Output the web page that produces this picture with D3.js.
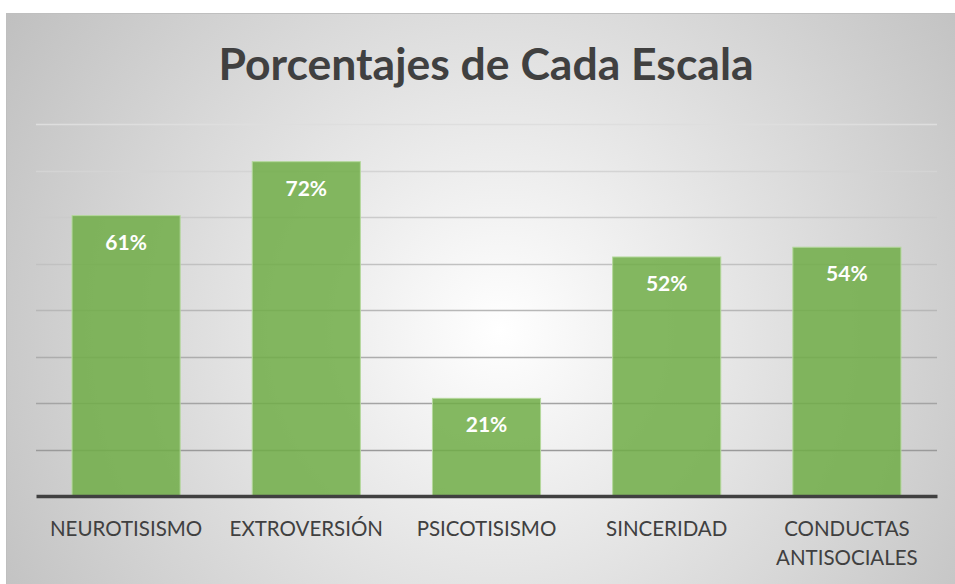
<!DOCTYPE html>
<html>
<head>
<meta charset="utf-8">
<script src="https://cdn.jsdelivr.net/npm/d3@7"></script>
<style>
body { margin: 0; background: #fff; }
svg { display: block; }
</style>
</head>
<body>
<div id="chart"></div>
<script>
var categories = ["NEUROTISISMO", "EXTROVERSIÓN", "PSICOTISISMO", "SINCERIDAD", "CONDUCTAS ANTISOCIALES"];
var values = [0.603, 0.719, 0.21, 0.514, 0.535];
var valueLabels = ["61%", "72%", "21%", "52%", "54%"];
var gridTicks = [0.1, 0.2, 0.3, 0.4, 0.5, 0.6, 0.7, 0.8];

var width = 955, height = 584;

var svg = d3.select("#chart")
    .append("svg")
    .attr("width", width)
    .attr("height", height);

var defs = svg.append("defs");
var bg = defs.append("radialGradient")
    .attr("id", "bg")
    .attr("gradientUnits", "userSpaceOnUse")
    .attr("cx", 500).attr("cy", 330).attr("r", 620);
bg.append("stop").attr("offset", "0%").attr("stop-color", "#ffffff");
bg.append("stop").attr("offset", "100%").attr("stop-color", "#bcbcbc");

// chart frame
svg.append("rect")
    .attr("x", 6.5).attr("y", 13.5)
    .attr("width", 960).attr("height", 580)
    .attr("fill", "url(#bg)")
    .attr("stroke", "#bfbfbf")
    .attr("stroke-width", 1);

svg.append("text")
    .text("Porcentajes de Cada Escala")
    .attr("x", 486)
    .attr("y", 80)
    .attr("text-anchor", "middle")
    .attr("font-family", "Lato, 'Open Sans', sans-serif")
    .attr("font-weight", "bold")
    .attr("font-size", 44.5)
    .attr("fill", "#404040");

var xScale = d3.scaleBand()
    .domain(categories)
    .range([36, 937])
    .paddingInner(0.4)
    .paddingOuter(0.2);

var yScale = d3.scaleLinear()
    .domain([0, 0.8])
    .range([496, 124]);

var grayScale = d3.scaleLinear()
    .domain([0.8, 0.1])
    .range(["#dedede", "#9a9a9a"]);

svg.append("g")
    .selectAll("line")
    .data(gridTicks)
    .enter()
    .append("line")
    .attr("x1", 36).attr("x2", 937)
    .attr("y1", function(d) { return Math.round(yScale(d)) + 0.5; })
    .attr("y2", function(d) { return Math.round(yScale(d)) + 0.5; })
    .attr("stroke", function(d) { return grayScale(d); })
    .attr("stroke-width", 1.3);

svg.append("g")
    .selectAll("rect")
    .data(values)
    .enter()
    .append("rect")
    .attr("x", function(d, i) { return xScale(categories[i]); })
    .attr("y", function(d) { return yScale(d); })
    .attr("width", xScale.bandwidth())
    .attr("height", function(d) { return yScale(0) - yScale(d); })
    .attr("fill", "#70ad47")
    .attr("fill-opacity", 0.85)
    .attr("stroke", "#b4d89c")
    .attr("stroke-width", 1);

svg.append("g")
    .selectAll("text")
    .data(values)
    .enter()
    .append("text")
    .text(function(d, i) { return valueLabels[i]; })
    .attr("x", function(d, i) { return xScale(categories[i]) + xScale.bandwidth() / 2; })
    .attr("y", function(d) { return yScale(d) + 34; })
    .attr("text-anchor", "middle")
    .attr("font-family", "Lato, 'Open Sans', sans-serif")
    .attr("font-weight", "bold")
    .attr("font-size", 21)
    .attr("fill", "#ffffff");

// baseline axis
var xAxis = d3.axisBottom(xScale).tickSize(0).tickFormat("");
var axisG = svg.append("g")
    .attr("transform", "translate(0," + yScale(0) + ")")
    .call(xAxis);
axisG.select(".domain")
    .attr("stroke", "#404040")
    .attr("stroke-width", 3.5);

var labels = svg.append("g");
categories.forEach(function(c, i) {
    var words = c === "CONDUCTAS ANTISOCIALES" ? ["CONDUCTAS", "ANTISOCIALES"] : [c];
    var t = labels.append("text")
        .attr("x", xScale(c) + xScale.bandwidth() / 2)
        .attr("y", 536)
        .attr("text-anchor", "middle")
        .attr("font-family", "Lato, 'Open Sans', sans-serif")
        .attr("font-size", 20.5)
        .attr("fill", "#404040");
    words.forEach(function(w, j) {
        t.append("tspan")
            .attr("x", xScale(c) + xScale.bandwidth() / 2)
            .attr("dy", j === 0 ? 0 : 28.5)
            .text(w);
    });
});
</script>
</body>
</html>
